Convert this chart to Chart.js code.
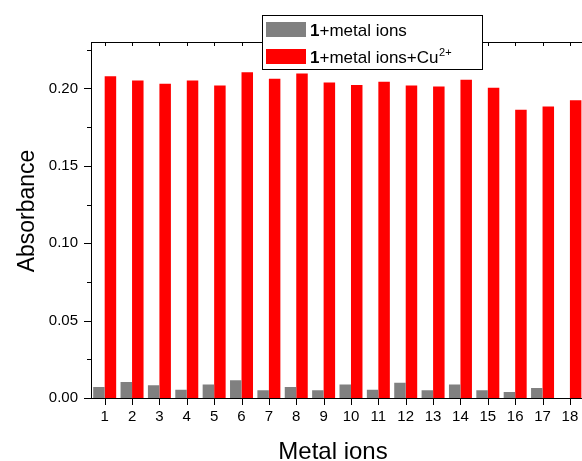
<!DOCTYPE html>
<html>
<head>
<meta charset="utf-8">
<script src="https://cdn.jsdelivr.net/npm/chart.js@4"></script>
<style>
  html, body { margin: 0; padding: 0; background: #fff; overflow: hidden; }
  #wrap { position: absolute; left: 0; top: 0; width: 600px; height: 461px; }
</style>
</head>
<body>
<div id="wrap"><canvas id="c" width="600" height="461"></canvas></div>
<script>
const categories = ['1','2','3','4','5','6','7','8','9','10','11','12','13','14','15','16','17','18'];
const seriesNames = ['1+metal ions', '1+metal ions+Cu2+'];
const metalIons = [0.0071,0.0103,0.0082,0.0054,0.0088,0.0114,0.0050,0.0071,0.0050,0.0088,0.0054,0.0099,0.0050,0.0088,0.0050,0.0039,0.0065,0];
const metalIonsCu = [0.2079,0.2052,0.2030,0.2052,0.2019,0.2105,0.2062,0.2097,0.2039,0.2022,0.2043,0.2019,0.2013,0.2056,0.2004,0.1862,0.1884,0.1923];
const yTickValues = [0, 0.05, 0.10, 0.15, 0.20];
const yMinorTickValues = [0.025, 0.075, 0.125, 0.175, 0.225];
const xTitle = 'Metal ions';
const yTitle = 'Absorbance';

const FONT = "'Liberation Sans', Arial, sans-serif";

const decor = {
  id: 'decor',
  afterDraw(chart) {
    const ctx = chart.ctx;
    const a = chart.chartArea;
    const xs = chart.scales.x, ys = chart.scales.y;
    ctx.save();
    ctx.strokeStyle = '#000';
    ctx.lineWidth = 1;
    // top frame
    ctx.beginPath();
    ctx.moveTo(a.left, Math.round(a.top) + 0.5);
    ctx.lineTo(a.right + 20, Math.round(a.top) + 0.5);
    ctx.stroke();
    // y ticks
    ctx.beginPath();
    yTickValues.forEach(v => {
      const y = Math.round(ys.getPixelForValue(v)) + 0.5;
      ctx.moveTo(a.left - 7, y); ctx.lineTo(a.left, y);
    });
    yMinorTickValues.forEach(v => {
      const y = Math.round(ys.getPixelForValue(v)) + 0.5;
      ctx.moveTo(a.left - 4, y); ctx.lineTo(a.left, y);
    });
    // x ticks
    categories.forEach((c, i) => {
      const x = Math.round(xs.getPixelForValue(i)) + 0.5;
      ctx.moveTo(x, a.bottom); ctx.lineTo(x, a.bottom + 7);
      ctx.moveTo(x, a.top); ctx.lineTo(x, a.top + 4);
    });
    ctx.stroke();

    // axis titles
    ctx.fillStyle = '#000';
    ctx.textAlign = 'center';
    ctx.textBaseline = 'alphabetic';
    ctx.font = '24px ' + FONT;
    ctx.fillText(xTitle, 333, 459);
    ctx.save();
    ctx.translate(34, 211);
    ctx.rotate(-Math.PI / 2);
    ctx.font = '23px ' + FONT;
    ctx.fillText(yTitle, 0, 0);
    ctx.restore();

    // legend
    const lx = 262, ly = 15, lw = 220, lh = 54;
    ctx.fillStyle = '#fff';
    ctx.fillRect(lx, ly, lw, lh);
    ctx.strokeStyle = '#000';
    ctx.strokeRect(lx + 0.5, ly + 0.5, lw, lh);
    const colors = [chart.data.datasets[0].backgroundColor, chart.data.datasets[1].backgroundColor];
    const rows = [22, 49];
    rows.forEach((ry, i) => {
      ctx.fillStyle = colors[i];
      ctx.fillRect(266, ry, 40, 15);
      ctx.fillStyle = '#000';
      ctx.textAlign = 'left';
      ctx.textBaseline = 'alphabetic';
      const base = ry + 13.5;
      let x = 310;
      ctx.font = 'bold 17px ' + FONT;
      ctx.fillText('1', x, base);
      x += ctx.measureText('1').width;
      ctx.font = '17px ' + FONT;
      if (i === 0) {
        ctx.fillText(seriesNames[0].slice(1), x, base);
      } else {
        const main = seriesNames[1].slice(1, -2);
        ctx.fillText(main, x, base);
        x += ctx.measureText(main).width + 0.5;
        ctx.font = '11px ' + FONT;
        ctx.fillText(seriesNames[1].slice(-2), x, base - 7);
      }
    });
    ctx.restore();
  }
};

new Chart(document.getElementById('c'), {
  type: 'bar',
  data: {
    labels: categories,
    datasets: [
      { label: seriesNames[0], data: metalIons, backgroundColor: '#808080', borderWidth: 0,
        categoryPercentage: 0.84, barPercentage: 1.0 },
      { label: seriesNames[1], data: metalIonsCu, backgroundColor: '#ff0000', borderWidth: 0,
        categoryPercentage: 0.84, barPercentage: 1.0 }
    ]
  },
  options: {
    responsive: false,
    animation: false,
    devicePixelRatio: 1,
    layout: { padding: { left: 0, top: 42, right: 16.4, bottom: 0 } },
    plugins: { legend: { display: false }, tooltip: { enabled: false } },
    scales: {
      x: {
        type: 'category',
        offset: true,
        grid: { display: false, drawTicks: false },
        border: { display: true, color: '#000', width: 1 },
        ticks: { color: '#000', font: { family: FONT, size: 15 }, padding: 10, maxRotation: 0, autoSkip: false },
        afterFit(scale) { scale.height = 63; }
      },
      y: {
        min: 0, max: 0.23,
        grid: { display: false, drawTicks: false },
        border: { display: true, color: '#000', width: 1 },
        ticks: { color: '#000', font: { family: FONT, size: 15 }, padding: 13,
          callback: v => Number(v).toFixed(2) },
        afterBuildTicks(scale) { scale.ticks = yTickValues.map(v => ({ value: v })); },
        afterFit(scale) { scale.width = 91; }
      }
    }
  },
  plugins: [decor]
});
</script>
</body>
</html>
